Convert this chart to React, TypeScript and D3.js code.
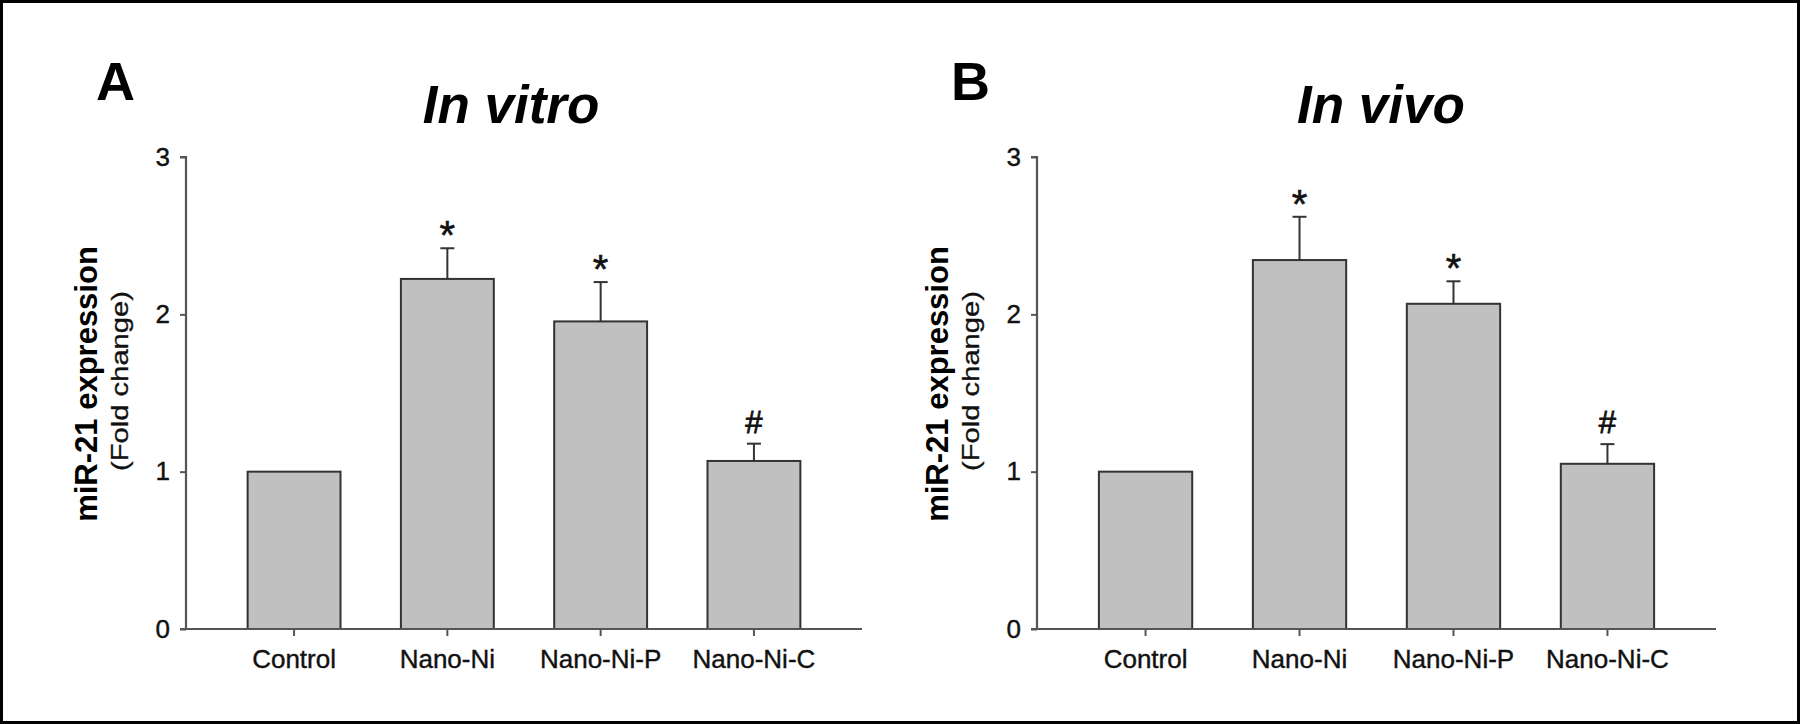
import React, { useEffect, useRef } from "react";
import * as d3 from "d3";

const categories = ["Control", "Nano-Ni", "Nano-Ni-P", "Nano-Ni-C"];
const vitroMeans = [1.0, 2.225, 1.955, 1.068];
const vitroUpper = [1.0, 2.42, 2.205, 1.178];
const vitroMarks = ["", "*", "*", "#"];
const vivoMeans = [1.0, 2.345, 2.067, 1.05];
const vivoUpper = [1.0, 2.62, 2.21, 1.175];
const vivoMarks = ["", "*", "*", "#"];
const yTicks = [0, 1, 2, 3];

const W = 1800;
const H = 724;
const FONT = "'Liberation Sans', Arial, sans-serif";

type Panel = {
  letter: string;
  title: string;
  means: number[];
  upper: number[];
  marks: string[];
  axisX: number;
  axisEnd: number;
  letterX: number;
  titleX: number;
};

const panels: Panel[] = [
  { letter: "A", title: "In vitro", means: vitroMeans, upper: vitroUpper, marks: vitroMarks, axisX: 186, axisEnd: 862, letterX: 96, titleX: 511 },
  { letter: "B", title: "In vivo", means: vivoMeans, upper: vivoUpper, marks: vivoMarks, axisX: 1037, axisEnd: 1716, letterX: 951, titleX: 1381 },
];

export default function App() {
  const ref = useRef<SVGSVGElement>(null);

  useEffect(() => {
    const svg = d3.select(ref.current);
    svg.selectAll("*").remove();

    svg.append("rect").attr("x", 1.5).attr("y", 1.5).attr("width", W - 3).attr("height", H - 3)
      .attr("fill", "#fff").attr("stroke", "#000").attr("stroke-width", 3);

    const y = d3.scaleLinear().domain([0, 3]).range([629, 157]);

    panels.forEach((p) => {
      const g = svg.append("g");
      const x = d3.scaleBand<string>().domain(categories).range([p.axisX, p.axisEnd])
        .paddingInner(0.394).paddingOuter(0.402);

      // panel letter
      g.append("text").attr("x", p.letterX).attr("y", 100).attr("font-family", FONT)
        .attr("font-weight", "bold").attr("font-size", 54).attr("fill", "#000").text(p.letter);
      // title
      g.append("text").attr("x", p.titleX).attr("y", 123).attr("text-anchor", "middle")
        .attr("font-family", FONT).attr("font-weight", "bold").attr("font-style", "italic")
        .attr("font-size", 53).attr("fill", "#000").text(p.title);

      // y label
      const cy = 384;
      g.append("text").attr("transform", `translate(${p.axisX - 89},${cy}) rotate(-90)`)
        .attr("text-anchor", "middle").attr("font-family", FONT).attr("font-weight", "bold")
        .attr("font-size", 31).attr("fill", "#000").text("miR-21 expression");
      g.append("text").attr("transform", `translate(${p.axisX - 58},${cy - 3}) rotate(-90) scale(1.27,1)`)
        .attr("text-anchor", "middle").attr("font-family", FONT)
        .attr("font-size", 23).attr("fill", "#111").attr("stroke", "#111").attr("stroke-width", 0.3)
        .text("(Fold change)");

      // bars
      g.selectAll("rect.bar").data(categories).enter().append("rect")
        .attr("x", (d) => x(d)!).attr("width", x.bandwidth())
        .attr("y", (_d, i) => y(p.means[i])).attr("height", (_d, i) => y(0) - y(p.means[i]))
        .attr("fill", "#c0c0c0").attr("stroke", "#333").attr("stroke-width", 2);

      // error bars
      categories.forEach((c, i) => {
        if (p.upper[i] <= p.means[i]) return;
        const cx = x(c)! + x.bandwidth() / 2;
        g.append("line").attr("x1", cx).attr("x2", cx).attr("y1", y(p.means[i])).attr("y2", y(p.upper[i]))
          .attr("stroke", "#333").attr("stroke-width", 2);
        g.append("line").attr("x1", cx - 7).attr("x2", cx + 7).attr("y1", y(p.upper[i])).attr("y2", y(p.upper[i]))
          .attr("stroke", "#333").attr("stroke-width", 2);
        const m = p.marks[i];
        if (m === "*") {
          g.append("text").attr("x", cx).attr("y", y(p.upper[i]) + 1).attr("text-anchor", "middle")
            .attr("font-family", FONT).attr("font-size", 40).attr("fill", "#111")
            .attr("stroke", "#111").attr("stroke-width", 0.6).text(m);
        } else if (m) {
          g.append("text").attr("x", cx).attr("y", y(p.upper[i]) - 11).attr("text-anchor", "middle")
            .attr("font-family", FONT).attr("font-size", 31).attr("fill", "#111")
            .attr("stroke", "#111").attr("stroke-width", 0.8).text(m);
        }
      });

      // y axis
      const ya = g.append("g").attr("transform", `translate(${p.axisX},0)`)
        .call(d3.axisLeft(y).tickValues(yTicks).tickFormat(d3.format("d")).tickSize(6).tickPadding(10));
      ya.select(".domain").attr("stroke", "#555").attr("stroke-width", 2.2).attr("d", `M-6,${y(3)}H0V${y(0)}`);
      ya.selectAll(".tick line").attr("stroke", "#555").attr("stroke-width", 2);
      ya.selectAll(".tick text").attr("font-family", FONT).attr("font-size", 26).attr("fill", "#111")
        .attr("stroke", "#111").attr("stroke-width", 0.4);

      // x axis
      const xa = g.append("g").attr("transform", `translate(0,${y(0)})`)
        .call(d3.axisBottom(x).tickSize(7).tickPadding(14));
      xa.select(".domain").attr("stroke", "#555").attr("stroke-width", 2.2)
        .attr("d", `M${p.axisX - 6},0H${p.axisEnd}`);
      xa.selectAll(".tick line").attr("stroke", "#555").attr("stroke-width", 2);
      xa.selectAll(".tick text").attr("font-family", FONT).attr("font-size", 26).attr("fill", "#111")
        .attr("stroke", "#111").attr("stroke-width", 0.4);
    });
  }, []);

  return <svg ref={ref} width={W} height={H} style={{ display: "block", position: "absolute", left: 0, top: 0 }} />;
}
